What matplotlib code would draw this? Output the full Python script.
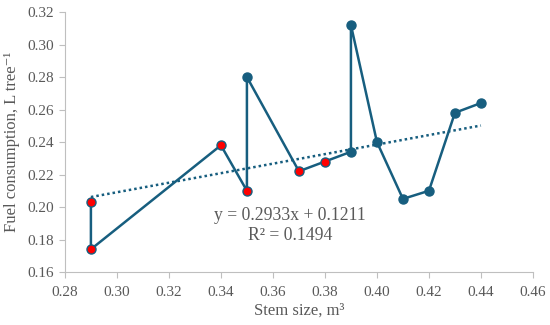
import matplotlib
matplotlib.use("Agg")
import matplotlib.pyplot as plt
import numpy as np

plt.rcParams['font.family'] = ['Liberation Serif', 'DejaVu Serif']
plt.rcParams['mathtext.fontset'] = 'stix'

# Data (in plotted order)
stem_size = [0.29, 0.29, 0.34, 0.35, 0.35, 0.37, 0.38, 0.39, 0.39, 0.40, 0.41, 0.42, 0.43, 0.44]
fuel = [0.203, 0.174, 0.238, 0.210, 0.280, 0.222, 0.228, 0.234, 0.312, 0.240, 0.205, 0.210, 0.258, 0.264]
is_red = [True, True, True, True, False, True, True, False, False, False, False, False, False, False]
slope = 0.2933
intercept = 0.1211
r2 = 0.1494
xticks = [0.28, 0.30, 0.32, 0.34, 0.36, 0.38, 0.40, 0.42, 0.44, 0.46]
yticks = [0.16, 0.18, 0.20, 0.22, 0.24, 0.26, 0.28, 0.30, 0.32]

blue = '#175E7F'
grey = '#595959'
axis_grey = '#BFBFBF'

fig = plt.figure(figsize=(5.5, 3.25), dpi=100)
ax = fig.add_axes([0.118, 0.163, 0.851, 0.800])

ax.plot(stem_size, fuel, color=blue, lw=1.8, zorder=2)
xs = np.array(stem_size)
ys = np.array(fuel)
red = np.array(is_red)
ax.plot(xs[~red], ys[~red], 'o', color=blue, ms=6.5, zorder=3)
ax.plot(xs[red], ys[red], 'o', markerfacecolor='#FF0000', markeredgecolor=blue,
        markeredgewidth=1.0, ms=6.5, zorder=4, linestyle='none')

tx = np.array([min(stem_size), max(stem_size)])
ax.plot(tx, slope * tx + intercept, color=blue, lw=1.8, linestyle=(0, (1, 1.2)), zorder=1)

ax.text(0.3665, 0.1948, f"y = {slope}x + {intercept}", ha='center', va='center',
        fontsize=12.7, color=grey)
ax.text(0.3665, 0.1825, f"R² = {r2}", ha='center', va='center',
        fontsize=12.7, color=grey)

ax.set_xlim(0.28, 0.46)
ax.set_ylim(0.16, 0.32)
ax.set_xticks(xticks)
ax.set_yticks(yticks)
ax.set_xticklabels([f"{v:.2f}" for v in xticks])
ax.set_yticklabels([f"{v:.2f}" for v in yticks])
ax.tick_params(axis='both', colors=axis_grey, labelcolor=grey, labelsize=11,
               length=4, width=0.8, direction='out')
ax.tick_params(axis='x', pad=6)
for s in ['top', 'right']:
    ax.spines[s].set_visible(False)
for s in ['left', 'bottom']:
    ax.spines[s].set_color(axis_grey)
    ax.spines[s].set_linewidth(0.8)

ax.set_xlabel("Stem size, m³", fontsize=12, color=grey, labelpad=3)
ax.set_ylabel("Fuel consumption, L tree⁻¹", fontsize=12, color=grey, labelpad=6)

fig.savefig("out.png", dpi=100)
